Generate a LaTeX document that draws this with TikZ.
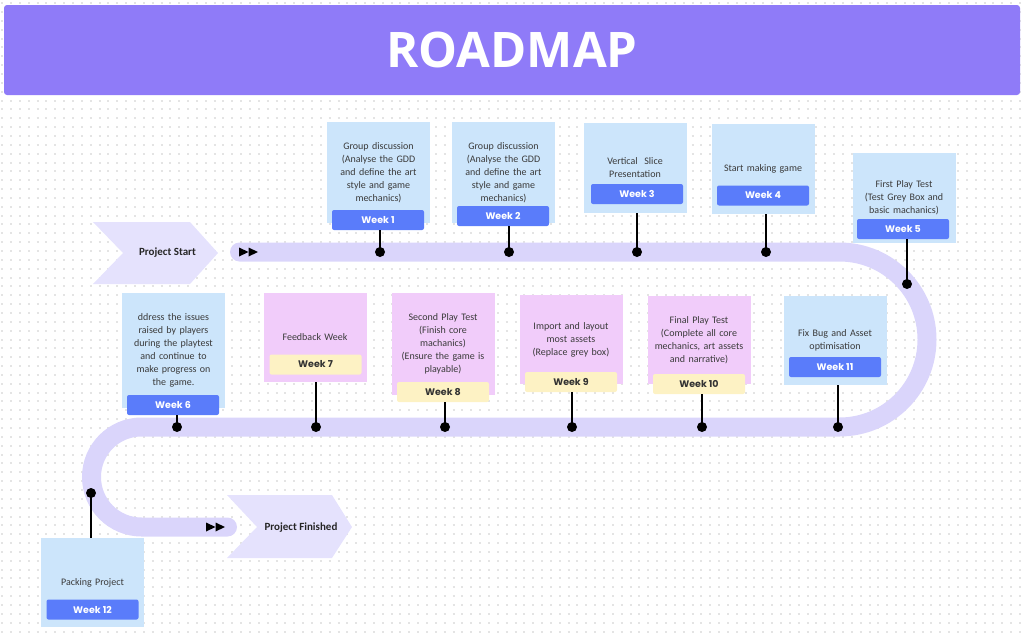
\documentclass[tikz,border=0pt]{standalone}
\usepackage{fontspec}
\setmainfont{Carlito}
\newfontfamily\weekfont{Poppins}
\newfontfamily\titlefont{Open Sans}
\usetikzlibrary{%
  calc,positioning}
\definecolor{titlepurple}{HTML}{8F7BF8}
\definecolor{roadpurple}{HTML}{DAD5FB}
\definecolor{chevronpurple}{HTML}{E5E2FD}
\definecolor{noteblue}{HTML}{CCE5FB}
\definecolor{notepink}{HTML}{F1CCFA}
\definecolor{weekblue}{HTML}{5A7CFA}
\definecolor{weekyellow}{HTML}{FDF2C4}
\definecolor{notetext}{HTML}{3A3A3A}
\definecolor{griddot}{HTML}{E4E4E4}
\tikzset{
  gridrow/.style={draw=griddot, line width=2pt, dash pattern=on 2pt off 6.85pt},
  titlebar/.style={rectangle, rounded corners=3pt, fill=titlepurple, text=white,
    minimum width=1016pt, minimum height=90pt,
    font=\titlefont\bfseries\fontsize{49}{50}\selectfont},
  road/.style={draw=roadpurple, line width=19pt, line cap=round},
  chevron/.style={fill=chevronpurple},
  endlabel/.style={font=\bfseries\fontsize{11}{12}\selectfont, text=black!85},
  note/.style={rectangle, inner xsep=1.5pt, inner ysep=0pt, text width=100pt,
    minimum width=103pt, align=center, text=notetext,
    font=\fontsize{10}{13}\selectfont},
  bluenote/.style={note, fill=noteblue},
  pinknote/.style={note, fill=notepink},
  week/.style={rectangle, rounded corners=2pt, minimum width=92pt,
    minimum height=20pt, inner sep=0pt,
    font=\weekfont\bfseries\fontsize{9.5}{10}\selectfont},
  blueweek/.style={week, fill=weekblue, text=white},
  yellowweek/.style={week, fill=weekyellow, text=black!80},
  stem/.style={line width=2.3pt}
}

\begin{document}
\begin{tikzpicture}[x=1pt,y=-1pt]
\useasboundingbox (0,0) rectangle (1024,632);
% dotted paper
\foreach \y in {3.2,12.05,...,632}
  \draw[gridrow] (1.2,\y) -- (1024,\y);
\node[titlebar] (title) at (512,50) {ROADMAP};

% the road
\draw[road] (239.5,252) -- (839.5,252)
  arc[start angle=-90, end angle=90, radius=87.5] -- (141.5,427)
  arc[start angle=-90, end angle=-270, radius=50] -- (227.5,527);
\foreach \x in {239,248.5}
  \fill (\x,247.5) -- ++(9.5,4.5) -- ++(-9.5,4.5) -- cycle;
\foreach \x in {206,215.5}
  \fill (\x,522.5) -- ++(9.5,4.5) -- ++(-9.5,4.5) -- cycle;

\fill[chevron] (93,222) -- (190,222) -- (218,253) -- (190,284)
  -- (93,284) -- (123,253) -- cycle;
\node[endlabel] (start) at (167.5,253) {Project Start};
\fill[chevron] (227,495) -- (332,495) -- (352,527) -- (332,558)
  -- (227,558) -- (257,527) -- cycle;
\node[endlabel] (finish) at (301,528) {Project Finished};

% top row
\node[bluenote, minimum height=101pt] (n1) at (378.5,172.5)
  {Group discussion\\ (Analyse the GDD\\ and define the art\\ style and game\\ mechanics)};
\node[blueweek] (w1) at (378,220) {Week 1};
\node[bluenote, minimum height=101pt] (n2) at (503.5,172.5)
  {Group discussion\\ (Analyse the GDD\\ and define the art\\ style and game\\ mechanics)};
\node[blueweek] (w2) at (503,216) {Week 2};
\node[bluenote, minimum height=90pt] (n3) at (635,168)
  {Vertical~ Slice\\ Presentation};
\node[blueweek] (w3) at (637,194) {Week 3};
\node[bluenote, minimum height=90pt] (n4) at (763,169) {Start making game};
\node[blueweek] (w4) at (763,195.5) {Week 4};
\node[bluenote, minimum height=90pt] (n5) at (904,198)
  {First Play Test\\ (Test Grey Box and\\ basic machanics)};
\node[blueweek] (w5) at (903,229) {Week 5};

% middle row
\node[bluenote, minimum height=115pt] (n6) at (173.5,350.5)
  {ddress the issues\\ raised by players\\ during the playtest\\ and continue to\\ make progress on\\ the game.};
\node[blueweek] (w6) at (173,405) {Week 6};
\node[pinknote, minimum height=89pt] (n7) at (315,337.5) {Feedback Week};
\node[yellowweek] (w7) at (315.5,364.5) {Week 7};
\node[pinknote, minimum height=102pt] (n8) at (443,344)
  {Second Play Test\\ (Finish core\\ machanics)\\ (Ensure the game is\\ playable)};
\node[yellowweek] (w8) at (443,392) {Week 8};
\node[pinknote, minimum height=89pt] (n9) at (571,339.5)
  {Import and layout\\ most assets\\ (Replace grey box)};
\node[yellowweek] (w9) at (571,382) {Week 9};
\node[pinknote, minimum height=88pt] (n10) at (699,340)
  {Final Play Test\\ (Complete all core\\ mechanics, art assets\\ and narrative)};
\node[yellowweek] (w10) at (699,384) {Week 10};
\node[bluenote, minimum height=89pt] (n11) at (835,340.5)
  {Fix Bug and Asset\\ optimisation\\[6pt]};
\node[blueweek] (w11) at (835,367) {Week 11};

% last one
\node[bluenote, minimum height=89pt] (n12) at (92.5,582.5) {Packing Project};
\node[blueweek] (w12) at (92.5,609.5) {Week 12};

\coordinate (d1) at (380,252);
\coordinate (d2) at (509,252);
\coordinate (d3) at (637,252);
\coordinate (d4) at (766,252);
\coordinate (d5) at (907,284);
\coordinate (d6) at (177,427);
\coordinate (d7) at (316,427);
\coordinate (d8) at (445,427);
\coordinate (d9) at (572,427);
\coordinate (d10) at (702,427);
\coordinate (d11) at (838,427);
\coordinate (d12) at (91,493);

\foreach \i in {1,2,5,6,8,9,10}
  \draw[stem] (d\i) -- (d\i |- w\i.south);
\foreach \i in {3,4,7,11}
  \draw[stem] (d\i) -- (d\i |- n\i.south);
\draw[stem] (d12) -- (d12 |- n12.north);
\foreach \i in {1,...,12}
  \fill (d\i) circle[radius=5];
\end{tikzpicture}
\end{document}
